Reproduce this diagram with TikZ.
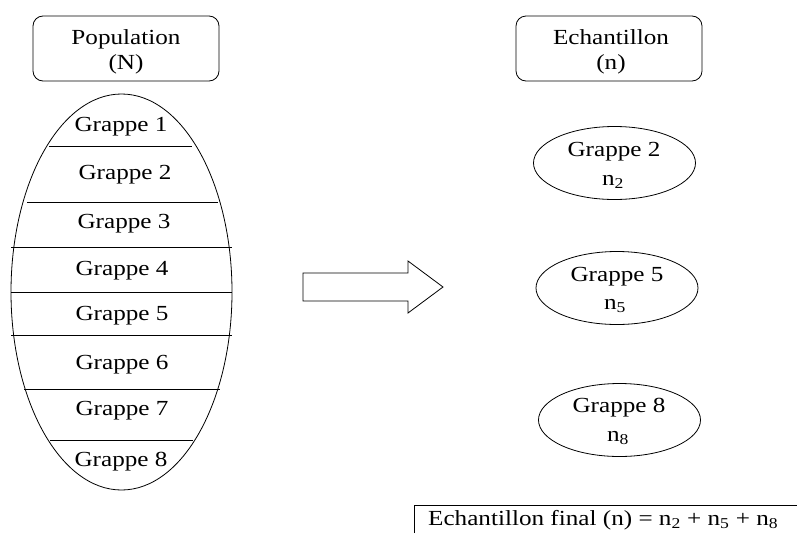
\documentclass[tikz,border=0pt]{standalone}
\usepackage{fontspec}
\usepackage{graphicx}
\setmainfont{Liberation Serif}
\usetikzlibrary{shapes.geometric}
\newcommand{\wt}[1]{\scalebox{1.17}[1]{#1}}
\begin{document}
\begin{tikzpicture}[x=1pt,y=-1pt,
  every node/.style={font=\fontsize{21.5}{26}\selectfont, inner sep=0pt},
  headbox/.style={draw, rounded corners=10pt, minimum width=186pt, minimum height=65pt, align=center, line width=0.8pt},
  grp/.style={anchor=center},
  sample/.style={draw, ellipse, minimum width=162pt, minimum height=73pt, line width=0.8pt},
  sep/.style={line width=0.8pt}]
\useasboundingbox (0,0) rectangle (797,533);
% header boxes
\node[headbox] (pop) at (126,48.5) {};
\node[headbox] (ech) at (609,48.5) {};
\node (popt) at (126,52) {\begin{tabular}{@{}c@{}}\wt{Population}\\[-1pt]\wt{(N)}\end{tabular}};
\node (echt) at (611,52) {\begin{tabular}{@{}c@{}}\wt{Echantillon}\\[-1pt]\wt{(n)}\end{tabular}};
% population ellipse
\node[draw, ellipse, minimum width=221pt, minimum height=396pt, line width=0.8pt] (popell) at (121.5,292) {};
\coordinate (l1a) at (49,146);  \coordinate (l1b) at (192,146);
\coordinate (l2a) at (27,202);  \coordinate (l2b) at (218,202);
\coordinate (l3a) at (11,247);  \coordinate (l3b) at (232,247);
\coordinate (l4a) at (11,292);  \coordinate (l4b) at (232,292);
\coordinate (l5a) at (11,335);  \coordinate (l5b) at (232,335);
\coordinate (l6a) at (24,389);  \coordinate (l6b) at (220,389);
\coordinate (l7a) at (50,440);  \coordinate (l7b) at (193,440);
\foreach \i in {1,...,7} {\draw[sep] (l\i a) -- (l\i b);}
\node[grp] (g1) at (121,127) {\wt{Grappe 1}};
\node[grp] (g2) at (125,175) {\wt{Grappe 2}};
\node[grp] (g3) at (124,224) {\wt{Grappe 3}};
\node[grp] (g4) at (122,271) {\wt{Grappe 4}};
\node[grp] (g5) at (122,316) {\wt{Grappe 5}};
\node[grp] (g6) at (122,365) {\wt{Grappe 6}};
\node[grp] (g7) at (122,411) {\wt{Grappe 7}};
\node[grp] (g8) at (121,462) {\wt{Grappe 8}};
% block arrow
\coordinate (a1) at (303,273); \coordinate (a2) at (408,273); \coordinate (a3) at (408,261);
\coordinate (a4) at (443,287); \coordinate (a5) at (408,313); \coordinate (a6) at (408,301);
\coordinate (a7) at (303,301);
\draw[line width=0.8pt, line join=miter] (a1) -- (a2) -- (a3) -- (a4) -- (a5) -- (a6) -- (a7) -- cycle;
% sample ellipses
\node[sample] (s2) at (614.5,163) {};
\node[sample] (s5) at (617,288) {};
\node[sample] (s8) at (619.5,420) {};
\node (s2t) at (614,152) {\wt{Grappe 2}};
\node (s2n) at (613,182) {\wt{n\textsubscript{2}}};
\node (s5t) at (617,277) {\wt{Grappe 5}};
\node (s5n) at (615,306) {\wt{n\textsubscript{5}}};
\node (s8t) at (619,408) {\wt{Grappe 8}};
\node (s8n) at (618,438) {\wt{n\textsubscript{8}}};
% final box
\coordinate (f1) at (414,533); \coordinate (f2) at (414,505); \coordinate (f3) at (797,505);
\draw[line width=0.8pt] (f1) -- (f2) -- (f3);
\node[anchor=west] (fin) at (428,520.5) {\wt{Echantillon final (n) = n\textsubscript{2} + n\textsubscript{5} + n\textsubscript{8}}};
\end{tikzpicture}
\end{document}
